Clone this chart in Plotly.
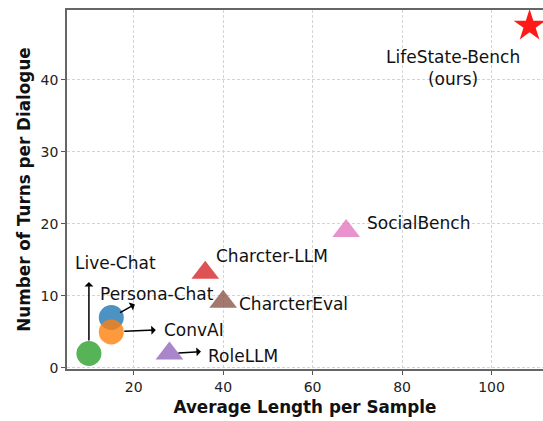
import plotly.graph_objects as go

# ---- data ----
names = ["Live-Chat", "Persona-Chat", "ConvAI", "RoleLLM", "Charcter-LLM",
         "CharcterEval", "SocialBench", "LifeState-Bench"]
avg_length = [10, 15, 15, 28, 36, 40, 67.5, 108.5]
turns = [2, 7, 5, 2, 13.2, 9.2, 19, 47.5]
x_ticks = [20, 40, 60, 80, 100]
y_ticks = [0, 10, 20, 30, 40]

# ---- style ----
symbols = ["circle", "circle", "circle", "triangle-up", "triangle-up",
           "triangle-up", "triangle-up", "star"]
colors = ["#2ca02c", "#1f77b4", "#ff7f0e", "#9467bd", "#d62728",
          "#8c564b", "#e377c2", "#ff0000"]
sizes = [25, 25, 25, 24, 24, 24, 24, 24]
opac = [0.8, 0.8, 0.8, 0.8, 0.8, 0.8, 0.8, 0.9]

FONT = "DejaVu Sans"

fig = go.Figure()
for i in range(len(names)):
    fig.add_trace(go.Scatter(
        x=[avg_length[i]], y=[turns[i]], mode="markers", name=names[i],
        marker=dict(symbol=symbols[i], color=colors[i], size=sizes[i],
                    opacity=opac[i], line=dict(width=0)),
        showlegend=False, hoverinfo="skip"))

# label offsets (pixels) from the data point, anchor
label_cfg = {
    "Live-Chat": (-16, 91, "left"),
    "Persona-Chat": (-13, 24, "left"),
    "ConvAI": (51, 2, "left"),
    "RoleLLM": (37, -2, "left"),
    "Charcter-LLM": (9, 17, "left"),
    "CharcterEval": (14, -2, "left"),
    "SocialBench": (19, 8, "left"),
    "LifeState-Bench": (-77, -42, "center"),
}
annotations = []
for i, n in enumerate(names):
    dx, dy, anc = label_cfg[n]
    txt = "LifeState-Bench<br>(ours)" if n == "LifeState-Bench" else n
    annotations.append(dict(
        x=avg_length[i], y=turns[i], xref="x", yref="y", text=txt,
        showarrow=False, xanchor=anc, yanchor="middle", xshift=dx, yshift=dy,
        align="center", font=dict(family=FONT, size=17, color="#111")))

# arrows from markers to labels (pixel offsets)
arrow_cfg = {
    "Live-Chat": (0, -73, 13),
    "Persona-Chat": (25, -14, 10),
    "ConvAI": (46, -2, 13),
    "RoleLLM": (33, -2, 9),
}
for i, n in enumerate(names):
    if n in arrow_cfg:
        ax, ay, so = arrow_cfg[n]
        annotations.append(dict(
            x=avg_length[i], y=turns[i], xref="x", yref="y", text="",
            showarrow=True, ax=ax, ay=ay, arrowside="start", arrowhead=2,
            arrowsize=1, arrowwidth=1.5, arrowcolor="black", standoff=so))

axis_common = dict(
    showline=True, linecolor="#666", linewidth=1.5,
    showgrid=True, gridcolor="#d4d4d4", griddash="3px,2px", gridwidth=1,
    ticks="outside", ticklen=4, tickcolor="#555", zeroline=False,
    tickfont=dict(family=FONT, size=14, color="#222"),
)

fig.update_layout(
    width=543, height=421,
    margin=dict(l=67, r=0, t=10, b=52),
    plot_bgcolor="white", paper_bgcolor="white",
    xaxis=dict(range=[5.1, 111.5], tickvals=x_ticks, mirror=True,
               title=dict(text="<b>Average Length per Sample</b>", standoff=8,
                          font=dict(family=FONT, size=16.8, color="#111")),
               **axis_common),
    yaxis=dict(range=[-0.15, 49.7], tickvals=y_ticks, mirror=False,
               title=dict(text="<b>Number of Turns per Dialogue</b>", standoff=6,
                          font=dict(family=FONT, size=16.8, color="#111")),
               **axis_common),
    annotations=annotations,
)

fig.write_html("out.html", config={"displayModeBar": False},
               post_script="document.body.style.margin='0';document.body.style.overflow='hidden';")
